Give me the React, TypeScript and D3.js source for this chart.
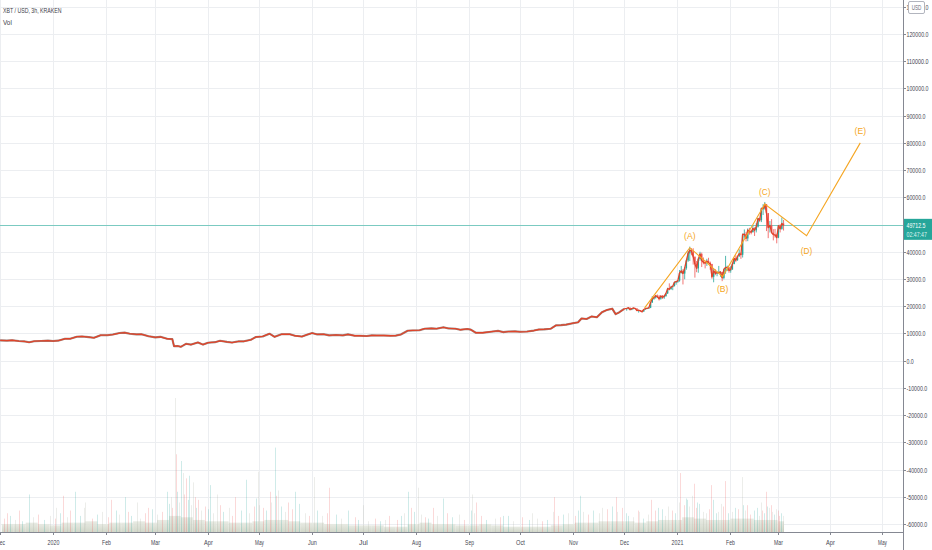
import * as d3 from "d3";
import { useEffect, useRef } from "react";

const WIDTH = 932;
const HEIGHT = 550;

// closes for the long flat stretch
const priceLine: [string, number][] = [
  ["2019-12-01", 7450], ["2019-12-05", 7350], ["2019-12-08", 7500], ["2019-12-12", 7200],
  ["2019-12-15", 7100], ["2019-12-18", 6750], ["2019-12-21", 7150], ["2019-12-25", 7250],
  ["2019-12-29", 7350], ["2020-01-01", 7200], ["2020-01-04", 7350], ["2020-01-08", 8050],
  ["2020-01-11", 8050], ["2020-01-15", 8800], ["2020-01-18", 8900], ["2020-01-22", 8650],
  ["2020-01-25", 8400], ["2020-01-29", 9350], ["2020-02-02", 9350], ["2020-02-05", 9600],
  ["2020-02-09", 10150], ["2020-02-12", 10300], ["2020-02-15", 9900], ["2020-02-19", 9650],
  ["2020-02-22", 9700], ["2020-02-26", 9000], ["2020-03-01", 8550], ["2020-03-04", 8750],
  ["2020-03-08", 8050], ["2020-03-11", 7900], ["2020-03-12", 5300], ["2020-03-14", 5400],
  ["2020-03-16", 5100], ["2020-03-19", 6200], ["2020-03-22", 5900], ["2020-03-26", 6700],
  ["2020-03-29", 5900], ["2020-04-01", 6600], ["2020-04-05", 6800], ["2020-04-08", 7300],
  ["2020-04-12", 6900], ["2020-04-15", 6650], ["2020-04-19", 7100], ["2020-04-22", 7100],
  ["2020-04-26", 7650], ["2020-04-29", 8700], ["2020-05-03", 8900], ["2020-05-07", 9900],
  ["2020-05-10", 8750], ["2020-05-14", 9700], ["2020-05-19", 9700], ["2020-05-22", 9150],
  ["2020-05-26", 8850], ["2020-05-29", 9550], ["2020-06-01", 10150], ["2020-06-04", 9650],
  ["2020-06-08", 9700], ["2020-06-11", 9300], ["2020-06-15", 9450], ["2020-06-19", 9300],
  ["2020-06-22", 9650], ["2020-06-26", 9150], ["2020-06-29", 9150], ["2020-07-03", 9050],
  ["2020-07-06", 9300], ["2020-07-09", 9250], ["2020-07-13", 9250], ["2020-07-17", 9150],
  ["2020-07-20", 9200], ["2020-07-23", 9600], ["2020-07-27", 11000], ["2020-07-30", 11100],
  ["2020-08-03", 11200], ["2020-08-06", 11750], ["2020-08-10", 11850], ["2020-08-13", 11750],
  ["2020-08-17", 12250], ["2020-08-20", 11850], ["2020-08-24", 11750], ["2020-08-27", 11350],
  ["2020-08-31", 11650], ["2020-09-02", 11400], ["2020-09-05", 10250], ["2020-09-09", 10250],
  ["2020-09-14", 10650], ["2020-09-18", 10950], ["2020-09-21", 10500], ["2020-09-24", 10700],
  ["2020-09-28", 10750], ["2020-10-01", 10600], ["2020-10-05", 10700], ["2020-10-09", 11050],
  ["2020-10-12", 11450], ["2020-10-15", 11500], ["2020-10-19", 11750], ["2020-10-22", 12950],
  ["2020-10-25", 13050], ["2020-10-28", 13250], ["2020-11-01", 13750], ["2020-11-04", 14100],
  ["2020-11-06", 15500], ["2020-11-09", 15300], ["2020-11-12", 16250], ["2020-11-15", 15950],
  ["2020-11-18", 17800], ["2020-11-21", 18650], ["2020-11-24", 19100], ["2020-11-26", 17100],
  ["2020-11-28", 17700], ["2020-12-01", 19000],
];

// daily candles for the rally: date, open, high, low, close
const candles: [string, number, number, number, number][] = [
  ["2020-12-02", 19000, 19300, 18350, 19200], ["2020-12-03", 19200, 19580, 18900, 19450],
  ["2020-12-04", 19450, 19500, 18600, 18700], ["2020-12-05", 18700, 19170, 18550, 19150],
  ["2020-12-06", 19150, 19420, 18870, 19350], ["2020-12-07", 19350, 19400, 18900, 19150],
  ["2020-12-08", 19150, 19280, 18300, 18350], ["2020-12-09", 18350, 18650, 17650, 18550],
  ["2020-12-10", 18550, 18600, 17950, 18250], ["2020-12-11", 18250, 18300, 17600, 18050],
  ["2020-12-12", 18050, 18950, 18000, 18800], ["2020-12-13", 18800, 19400, 18750, 19150],
  ["2020-12-14", 19150, 19350, 19000, 19250], ["2020-12-15", 19250, 19550, 19050, 19450],
  ["2020-12-16", 19450, 21550, 19300, 21350], ["2020-12-17", 21350, 23700, 21250, 22800],
  ["2020-12-18", 22800, 23300, 22350, 23150], ["2020-12-19", 23150, 24150, 22800, 23850],
  ["2020-12-20", 23850, 24300, 23100, 23480], ["2020-12-21", 23480, 24100, 22100, 22750],
  ["2020-12-22", 22750, 23850, 22400, 23800], ["2020-12-23", 23800, 24100, 22700, 23240],
  ["2020-12-24", 23240, 23800, 22700, 23730], ["2020-12-25", 23730, 24800, 23450, 24710],
  ["2020-12-26", 24710, 26800, 24500, 26440], ["2020-12-27", 26440, 28400, 25850, 26250],
  ["2020-12-28", 26250, 27500, 26100, 27040], ["2020-12-29", 27040, 27400, 25900, 27360],
  ["2020-12-30", 27360, 29000, 27300, 28840], ["2020-12-31", 28840, 29300, 27900, 29000],
  ["2021-01-01", 29000, 29600, 28600, 29400], ["2021-01-02", 29400, 33300, 29000, 32200],
  ["2021-01-03", 32200, 34800, 32000, 33000], ["2021-01-04", 33000, 33600, 28000, 32000],
  ["2021-01-05", 32000, 34400, 29900, 34000], ["2021-01-06", 34000, 36900, 33400, 36800],
  ["2021-01-07", 36800, 40300, 36300, 39400], ["2021-01-08", 39400, 41900, 36600, 40600],
  ["2021-01-09", 40600, 41300, 38700, 40200], ["2021-01-10", 40200, 41300, 35300, 38200],
  ["2021-01-11", 38200, 38200, 30500, 35500], ["2021-01-12", 35500, 36600, 32500, 33900],
  ["2021-01-13", 33900, 37800, 32300, 37300], ["2021-01-14", 37300, 40000, 36700, 39200],
  ["2021-01-15", 39200, 39700, 34400, 36800], ["2021-01-16", 36800, 37900, 35400, 36100],
  ["2021-01-17", 36100, 36800, 33900, 35800], ["2021-01-18", 35800, 37400, 34800, 36600],
  ["2021-01-19", 36600, 37800, 35900, 36000], ["2021-01-20", 36000, 36400, 33400, 35500],
  ["2021-01-21", 35500, 35600, 30100, 30800], ["2021-01-22", 30800, 33800, 28800, 33000],
  ["2021-01-23", 33000, 33600, 31400, 32100], ["2021-01-24", 32100, 32900, 31000, 32300],
  ["2021-01-25", 32300, 34800, 32100, 32400], ["2021-01-26", 32400, 32800, 30800, 32600],
  ["2021-01-27", 32600, 32600, 29200, 30400], ["2021-01-28", 30400, 33800, 29900, 33500],
  ["2021-01-29", 33500, 38500, 31900, 34300], ["2021-01-30", 34300, 34900, 32900, 34300],
  ["2021-01-31", 34300, 34300, 32300, 33100], ["2021-02-01", 33100, 34700, 32300, 33500],
  ["2021-02-02", 33500, 35900, 33400, 35500], ["2021-02-03", 35500, 37700, 35400, 37600],
  ["2021-02-04", 37600, 38700, 36200, 36900], ["2021-02-05", 36900, 38300, 36700, 38300],
  ["2021-02-06", 38300, 40900, 38200, 39300], ["2021-02-07", 39300, 39700, 37400, 38900],
  ["2021-02-08", 38900, 46700, 37900, 46400], ["2021-02-09", 46400, 48200, 45100, 46500],
  ["2021-02-10", 46500, 47300, 43800, 44900], ["2021-02-11", 44900, 48600, 43900, 48000],
  ["2021-02-12", 48000, 48800, 46300, 47400], ["2021-02-13", 47400, 48000, 46400, 47200],
  ["2021-02-14", 47200, 49700, 47100, 48600], ["2021-02-15", 48600, 49000, 45800, 47900],
  ["2021-02-16", 47900, 50500, 47100, 49200], ["2021-02-17", 49200, 52500, 48900, 52200],
  ["2021-02-18", 52200, 52500, 50900, 51600], ["2021-02-19", 51600, 56200, 50900, 55900],
  ["2021-02-20", 55900, 57500, 53500, 55900], ["2021-02-21", 55900, 58300, 55500, 57500],
  ["2021-02-22", 57500, 57500, 47600, 54200], ["2021-02-23", 54200, 54200, 45000, 48900],
  ["2021-02-24", 48900, 51300, 47100, 49700], ["2021-02-25", 49700, 52000, 46900, 47000],
  ["2021-02-26", 47000, 48300, 44200, 46300], ["2021-02-27", 46300, 48400, 45200, 46200],
  ["2021-02-28", 46200, 46600, 43100, 45200], ["2021-03-01", 45200, 49800, 45000, 49600],
  ["2021-03-02", 49600, 50100, 47100, 48400], ["2021-03-03", 48400, 52600, 48100, 50400],
  ["2021-03-04", 50400, 51700, 47800, 49712.5],
];

// hand-drawn wave count
const wavePoints: [string, number][] = [
  ["2020-12-13", 19400], ["2021-01-08T12:00", 41500], ["2021-01-27T18:00", 30900],
  ["2021-02-21T12:00", 57500], ["2021-03-18", 45900], ["2021-04-18T12:00", 80000],
];
const waveLabels = ["", "(A)", "(B)", "(C)", "(D)", "(E)"];
const waveLabelOffset = [0, -12, 12, -12, 15, -12];

// weekly volume floor (arbitrary units) and the spikes on top of it
const volumeBase: [string, number][] = [
  ["2019-12-02", 6], ["2019-12-09", 6], ["2019-12-16", 7], ["2019-12-23", 6], ["2019-12-30", 5],
  ["2020-01-06", 7], ["2020-01-13", 7], ["2020-01-20", 8], ["2020-01-27", 6],
  ["2020-02-03", 7], ["2020-02-10", 7], ["2020-02-17", 8], ["2020-02-24", 7],
  ["2020-03-02", 9], ["2020-03-09", 12], ["2020-03-16", 11], ["2020-03-23", 9], ["2020-03-30", 8],
  ["2020-04-06", 8], ["2020-04-13", 7], ["2020-04-20", 7], ["2020-04-27", 8],
  ["2020-05-04", 9], ["2020-05-11", 9], ["2020-05-18", 8], ["2020-05-25", 7],
  ["2020-06-01", 7], ["2020-06-08", 6], ["2020-06-15", 6], ["2020-06-22", 5], ["2020-06-29", 5],
  ["2020-07-06", 5], ["2020-07-13", 4], ["2020-07-20", 4], ["2020-07-27", 6],
  ["2020-08-03", 7], ["2020-08-10", 6], ["2020-08-17", 6], ["2020-08-24", 5], ["2020-08-31", 5],
  ["2020-09-07", 6], ["2020-09-14", 5], ["2020-09-21", 4], ["2020-09-28", 4],
  ["2020-10-05", 4], ["2020-10-12", 4], ["2020-10-19", 5], ["2020-10-26", 6],
  ["2020-11-02", 7], ["2020-11-09", 7], ["2020-11-16", 8], ["2020-11-23", 8], ["2020-11-30", 8],
  ["2020-12-07", 7], ["2020-12-14", 8], ["2020-12-21", 9], ["2020-12-28", 9],
  ["2021-01-04", 11], ["2021-01-11", 10], ["2021-01-18", 9], ["2021-01-25", 9],
  ["2021-02-01", 10], ["2021-02-08", 10], ["2021-02-15", 9], ["2021-02-22", 9],
  ["2021-03-01", 8],
];
const volumeEnd = "2021-03-04T18:00";

const volumeSpikes: [string, number][] = [
  ["2019-12-05", 14], ["2019-12-18", 28], ["2020-01-03", 18], ["2020-01-07", 27],
  ["2020-01-14", 30], ["2020-01-20", 22], ["2020-02-04", 24], ["2020-02-12", 26],
  ["2020-02-19", 22], ["2020-02-26", 18], ["2020-03-08", 30], ["2020-03-12T18:00", 100],
  ["2020-03-13", 58], ["2020-03-16", 53], ["2020-03-17", 44], ["2020-03-19", 40],
  ["2020-03-21", 42], ["2020-03-23", 37], ["2020-03-26", 24], ["2020-04-02", 35],
  ["2020-04-06", 28], ["2020-04-17", 26], ["2020-04-23", 39], ["2020-04-30", 45],
  ["2020-05-07", 30], ["2020-05-10", 63], ["2020-05-12", 31], ["2020-05-18", 22],
  ["2020-05-22", 30], ["2020-06-02", 41], ["2020-06-11", 33], ["2020-06-22", 16],
  ["2020-07-01", 20], ["2020-07-16", 12], ["2020-07-27", 30], ["2020-08-02", 33],
  ["2020-08-11", 18], ["2020-08-17", 25], ["2020-09-03", 28], ["2020-09-05", 22],
  ["2020-09-21", 12], ["2020-10-08", 14], ["2020-10-21", 26], ["2020-11-05", 27],
  ["2020-11-18", 18], ["2020-11-26", 26], ["2020-12-03", 12], ["2020-12-10", 15],
  ["2020-12-17", 24], ["2020-12-21", 18], ["2020-12-27", 19], ["2021-01-03", 44],
  ["2021-01-06", 25], ["2021-01-08", 19], ["2021-01-11", 36], ["2021-01-14", 21],
  ["2021-01-16", 15], ["2021-01-21", 35], ["2021-01-24", 14], ["2021-01-27", 21],
  ["2021-01-29", 38], ["2021-02-04", 18], ["2021-02-08", 41], ["2021-02-11", 20],
  ["2021-02-15", 16], ["2021-02-19", 22], ["2021-02-22", 30], ["2021-02-23", 19],
  ["2021-02-26", 15], ["2021-03-02", 12],
];

const volumeMinor: [string, number][] = [
  ["2019-12-03", 10], ["2019-12-07", 12], ["2019-12-10", 9], ["2019-12-12", 16], ["2019-12-14", 8],
  ["2019-12-20", 11], ["2019-12-23", 13], ["2019-12-27", 9], ["2019-12-30", 12],
  ["2020-01-02", 10], ["2020-01-05", 14], ["2020-01-09", 11], ["2020-01-11", 16], ["2020-01-17", 12],
  ["2020-01-19", 18], ["2020-01-24", 10], ["2020-01-27", 13], ["2020-01-30", 15],
  ["2020-02-02", 11], ["2020-02-07", 16], ["2020-02-09", 13], ["2020-02-14", 15], ["2020-02-16", 12],
  ["2020-02-21", 10], ["2020-02-24", 14], ["2020-02-28", 17],
  ["2020-03-02", 13], ["2020-03-05", 15], ["2020-03-09", 21], ["2020-03-10", 26], ["2020-03-11", 18],
  ["2020-03-14", 30], ["2020-03-15", 22], ["2020-03-18", 28], ["2020-03-20", 24], ["2020-03-22", 20],
  ["2020-03-24", 26], ["2020-03-25", 18], ["2020-03-28", 16], ["2020-03-30", 19],
  ["2020-04-01", 17], ["2020-04-04", 14], ["2020-04-08", 20], ["2020-04-10", 15], ["2020-04-13", 18],
  ["2020-04-15", 12], ["2020-04-20", 16], ["2020-04-25", 14], ["2020-04-28", 19], ["2020-04-29", 25],
  ["2020-05-01", 20], ["2020-05-03", 18], ["2020-05-05", 16], ["2020-05-08", 22], ["2020-05-11", 27],
  ["2020-05-14", 19], ["2020-05-16", 15], ["2020-05-20", 17], ["2020-05-24", 21], ["2020-05-28", 14],
  ["2020-05-30", 12], ["2020-06-04", 16], ["2020-06-07", 12], ["2020-06-10", 14], ["2020-06-15", 13],
  ["2020-06-18", 10], ["2020-06-26", 11], ["2020-06-28", 9],
  ["2020-07-04", 8], ["2020-07-08", 10], ["2020-07-11", 8], ["2020-07-14", 9], ["2020-07-21", 9],
  ["2020-07-23", 12], ["2020-07-25", 14], ["2020-07-29", 18], ["2020-07-31", 15],
  ["2020-08-04", 13], ["2020-08-06", 11], ["2020-08-08", 10], ["2020-08-13", 12], ["2020-08-19", 14],
  ["2020-08-22", 11], ["2020-08-26", 13], ["2020-08-29", 9],
  ["2020-09-02", 16], ["2020-09-04", 14], ["2020-09-08", 12], ["2020-09-11", 9], ["2020-09-16", 10],
  ["2020-09-19", 11], ["2020-09-24", 12], ["2020-09-27", 8],
  ["2020-10-02", 11], ["2020-10-06", 9], ["2020-10-11", 10], ["2020-10-14", 8], ["2020-10-17", 9],
  ["2020-10-20", 15], ["2020-10-23", 12], ["2020-10-26", 13], ["2020-10-29", 14],
  ["2020-11-02", 12], ["2020-11-04", 16], ["2020-11-07", 15], ["2020-11-10", 13], ["2020-11-13", 16],
  ["2020-11-16", 14], ["2020-11-21", 17], ["2020-11-24", 19], ["2020-11-27", 15], ["2020-11-30", 18],
  ["2020-12-02", 14], ["2020-12-06", 11], ["2020-12-09", 16], ["2020-12-12", 10], ["2020-12-15", 13],
  ["2020-12-19", 16], ["2020-12-23", 17], ["2020-12-25", 12], ["2020-12-29", 16], ["2020-12-31", 14],
  ["2021-01-02", 22], ["2021-01-05", 20], ["2021-01-07", 24], ["2021-01-10", 27], ["2021-01-12", 18],
  ["2021-01-13", 22], ["2021-01-18", 14], ["2021-01-20", 17], ["2021-01-22", 24], ["2021-01-25", 15],
  ["2021-01-28", 19], ["2021-01-31", 14], ["2021-02-02", 15], ["2021-02-06", 17], ["2021-02-09", 20],
  ["2021-02-10", 16], ["2021-02-13", 13], ["2021-02-17", 18], ["2021-02-18", 12], ["2021-02-20", 16],
  ["2021-02-21", 14], ["2021-02-24", 18], ["2021-02-25", 20], ["2021-02-27", 13], ["2021-02-28", 17],
  ["2021-03-01", 16], ["2021-03-03", 14], ["2021-03-04", 12],
];

const priceTicks = [
  -60000, -50000, -40000, -30000, -20000, -10000, 0, 10000, 20000, 30000,
  40000, 50000, 60000, 70000, 80000, 90000, 100000, 110000, 120000, 130000,
];
const monthTicks = [
  "2019-12-01", "2020-01-01", "2020-02-01", "2020-03-01", "2020-04-01", "2020-05-01",
  "2020-06-01", "2020-07-01", "2020-08-01", "2020-09-01", "2020-10-01", "2020-11-01",
  "2020-12-01", "2021-01-01", "2021-02-01", "2021-03-01", "2021-04-01", "2021-05-01",
];

const lastPrice = 49712.5;
const countdown = "02:47:47";
const titleText = "XBT / USD, 3h, KRAKEN";

const FONT = "'Liberation Sans', Arial, sans-serif";
const UP = "#26a69a";
const DOWN = "#ef5350";
const WAVE = "#f5a623";
const AXIS_TEXT = "#434651";

const parse = (s: string) => new Date(s.includes("T") ? s + ":00Z" : s + "T00:00:00Z");

// the screenshot uses a condensed face, so squeeze text to its measured width
const charWidth = (c: string) => {
  if (/[0-9]/.test(c)) return 2.95;
  if (/[.,:]/.test(c)) return 1.35;
  if (c === "-" || c === "/") return 1.8;
  if (c === " ") return 1.5;
  if (/[A-Z]/.test(c)) return 3.4;
  return 2.7;
};
const narrow = (t: string, k = 1) =>
  t.split("").reduce((s, c) => s + charWidth(c), 0) * k;

export default function App() {
  const svgRef = useRef<SVGSVGElement>(null);

  useEffect(() => {
    if (!svgRef.current) return;
    const svg = d3.select(svgRef.current);
    svg.selectAll("*").remove();

    const plotRight = 903;
    const axisY = 532;

    const x = d3
      .scaleUtc()
      .domain([parse("2020-01-01"), parse("2021-01-01")])
      .range([53, 677]);
    const y = d3.scaleLinear().domain([-60000, 120000]).range([524, 34]);
    const vy = d3.scaleLinear().domain([0, 100]).range([axisY, 398]);

    // text squeezed horizontally with a transform so it keeps the narrow look
    const addText = (
      parent: d3.Selection<any, unknown, null, undefined>,
      t: string,
      tx: number,
      ty: number,
      size: number,
      fill: string,
      anchor = "start",
      k = 1,
    ) => {
      const el = parent
        .append("text")
        .attr("x", 0)
        .attr("y", 0)
        .attr("dy", "0.35em")
        .attr("text-anchor", anchor)
        .style("font-family", FONT)
        .style("font-size", `${size}px`)
        .style("fill", fill)
        .text(t);
      const natural = (el.node() as SVGTextElement).getComputedTextLength() || 1;
      const sx = Math.min(1, narrow(t, k) / natural);
      el.attr("transform", `translate(${tx},${ty}) scale(${sx},1)`);
      return el;
    };

    const defs = svg.append("defs");
    defs
      .append("clipPath")
      .attr("id", "plot")
      .append("rect")
      .attr("x", 0)
      .attr("y", 0)
      .attr("width", plotRight)
      .attr("height", axisY);
    const grad = defs
      .append("linearGradient")
      .attr("id", "volfloor")
      .attr("x1", 0)
      .attr("x2", 0)
      .attr("y1", 1)
      .attr("y2", 0);
    grad.append("stop").attr("offset", "0%").attr("stop-color", "#cdd3c4");
    grad.append("stop").attr("offset", "100%").attr("stop-color", "#e6e9e1");

    // grid
    const grid = svg.append("g");
    grid
      .selectAll("line.h")
      .data(priceTicks)
      .enter()
      .append("line")
      .attr("x1", 0)
      .attr("x2", plotRight)
      .attr("y1", (d) => Math.round(y(d)) + 0.5)
      .attr("y2", (d) => Math.round(y(d)) + 0.5)
      .style("stroke", "#eceef1");
    grid
      .selectAll("line.v")
      .data(monthTicks)
      .enter()
      .append("line")
      .attr("x1", (d) => Math.round(x(parse(d))) + 0.5)
      .attr("x2", (d) => Math.round(x(parse(d))) + 0.5)
      .attr("y1", 0)
      .attr("y2", axisY)
      .style("stroke", "#eceef1");

    const plot = svg.append("g").attr("clip-path", "url(#plot)");

    // volume floor
    const end = parse(volumeEnd);
    plot
      .selectAll("rect.vb")
      .data(volumeBase)
      .enter()
      .append("rect")
      .attr("x", (d) => x(parse(d[0])))
      .attr("width", (d, i) => {
        const next = i < volumeBase.length - 1 ? parse(volumeBase[i + 1][0]) : end;
        return x(next) - x(parse(d[0]));
      })
      .attr("y", (d) => vy(d[1]))
      .attr("height", (d) => axisY - vy(d[1]))
      .style("fill", "url(#volfloor)")
      .style("opacity", 0.9);

    // volume bars
    const bars = volumeMinor.concat(volumeSpikes);
    plot
      .selectAll("line.vs")
      .data(bars)
      .enter()
      .append("line")
      .attr("x1", (d) => Math.round(x(parse(d[0]))) + 0.5)
      .attr("x2", (d) => Math.round(x(parse(d[0]))) + 0.5)
      .attr("y1", axisY)
      .attr("y2", (d) => vy(d[1]))
      .style("stroke", (_, i) => (i % 3 === 0 ? DOWN : i % 3 === 1 ? UP : "#a9ad9f"))
      .style("stroke-opacity", 0.22)
      .style("stroke-width", 1);

    // current price line
    plot
      .append("line")
      .attr("x1", 0)
      .attr("x2", plotRight)
      .attr("y1", Math.round(y(lastPrice)) + 0.5)
      .attr("y2", Math.round(y(lastPrice)) + 0.5)
      .style("stroke", "#5fc0b5")
      .style("stroke-opacity", 0.8);

    // flat part: candles squeezed into a thin dark band
    const line = d3
      .line<[Date, number]>()
      .x((d) => x(d[0]))
      .y((d) => y(d[1]));
    const flat = priceLine.map((d) => [parse(d[0]), d[1]] as [Date, number]);
    plot
      .append("path")
      .datum(flat)
      .attr("d", line)
      .style("fill", "none")
      .style("stroke", "#7c5d55")
      .style("stroke-opacity", 0.75)
      .style("stroke-width", 2.1)
      .style("stroke-linejoin", "round");

    // rally candles
    const candleG = plot.append("g");
    candles.forEach((c) => {
      const cx = x(parse(c[0] + "T12:00"));
      const col = c[4] >= c[1] ? UP : DOWN;
      candleG
        .append("line")
        .attr("x1", cx)
        .attr("x2", cx)
        .attr("y1", y(c[2]))
        .attr("y2", y(c[3]))
        .style("stroke", col)
        .style("stroke-width", 0.8);
      candleG
        .append("rect")
        .attr("x", cx - 0.7)
        .attr("width", 1.4)
        .attr("y", y(Math.max(c[1], c[4])))
        .attr("height", Math.max(0.8, Math.abs(y(c[1]) - y(c[4]))))
        .style("fill", col);
    });

    // red close line across everything
    const closes = flat.concat(
      candles.map((c) => [parse(c[0] + "T12:00"), c[4]] as [Date, number]),
    );
    plot
      .append("path")
      .datum(closes)
      .attr("d", line)
      .style("fill", "none")
      .style("stroke", "#e0442a")
      .style("stroke-width", 1.3)
      .style("stroke-linejoin", "round");

    // wave drawing
    const wave = wavePoints.map((d) => [parse(d[0]), d[1]] as [Date, number]);
    plot
      .append("path")
      .datum(wave)
      .attr("d", line)
      .style("fill", "none")
      .style("stroke", WAVE)
      .style("stroke-width", 1.1);
    wave.forEach((d, i) => {
      if (!waveLabels[i]) return;
      addText(plot, waveLabels[i], x(d[0]), y(d[1]) + waveLabelOffset[i], 9.5, WAVE, "middle", 1.3);
    });

    // bottom time axis
    svg
      .append("line")
      .attr("x1", 0)
      .attr("x2", plotRight)
      .attr("y1", axisY + 0.5)
      .attr("y2", axisY + 0.5)
      .style("stroke", "#858892");
    const monthFmt = d3.utcFormat("%b");
    const yearFmt = d3.utcFormat("%Y");
    monthTicks.forEach((m) => {
      const d = parse(m);
      const tx = Math.round(x(d)) + 0.5;
      svg
        .append("line")
        .attr("x1", tx)
        .attr("x2", tx)
        .attr("y1", axisY + 1)
        .attr("y2", axisY + 3)
        .style("stroke", "#858892");
      addText(svg, d.getUTCMonth() === 0 ? yearFmt(d) : monthFmt(d), tx, axisY + 10, 7.5, AXIS_TEXT, "middle");
    });

    // right price axis
    svg
      .append("line")
      .attr("x1", plotRight + 0.5)
      .attr("x2", plotRight + 0.5)
      .attr("y1", 0)
      .attr("y2", HEIGHT)
      .style("stroke", "#858892");
    priceTicks.forEach((p) => {
      const ty = Math.round(y(p)) + 0.5;
      svg
        .append("line")
        .attr("x1", plotRight + 1)
        .attr("x2", plotRight + 3)
        .attr("y1", ty)
        .attr("y2", ty)
        .style("stroke", "#858892");
      addText(svg, d3.format(".1f")(p).replace("−", "-"), plotRight + 3.5, ty, 7.5, AXIS_TEXT);
    });

    // last price tag
    const ly = y(lastPrice);
    svg
      .append("rect")
      .attr("x", plotRight + 1)
      .attr("y", ly - 6.5)
      .attr("width", WIDTH - plotRight - 1)
      .attr("height", 21)
      .style("fill", UP);
    addText(svg, d3.format(".1f")(lastPrice), plotRight + 3.5, ly, 7.5, "#ffffff");
    addText(svg, countdown, plotRight + 3.5, ly + 9, 7, "#dff3f0");

    // currency badge (sits over the top tick label, as on screen)
    svg
      .append("rect")
      .attr("x", 908.5)
      .attr("y", 1.5)
      .attr("width", 16)
      .attr("height", 12)
      .attr("rx", 1.5)
      .style("fill", "#fff")
      .style("stroke", "#b2b5be");
    addText(svg, "USD", 916.5, 7.5, 7, "#6a6d78", "middle", 0.95);

    // legend text
    addText(svg, titleText, 3, 10, 8, "#3d4049", "start", 1.03);
    addText(svg, "Vol", 3, 22, 8, "#3d4049");
  }, []);

  return (
    <svg
      ref={svgRef}
      width={WIDTH}
      height={HEIGHT}
      style={{ position: "absolute", left: 0, top: 0, background: "#fff", display: "block" }}
    />
  );
}
